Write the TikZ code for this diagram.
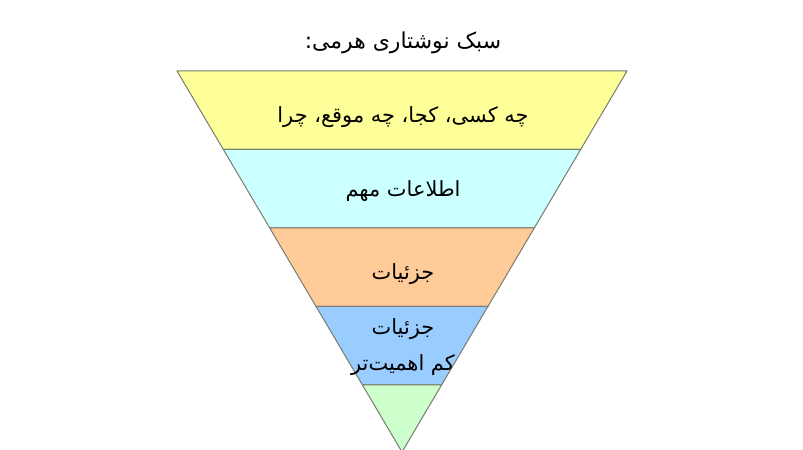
\documentclass[tikz,border=0pt]{standalone}
\usepackage{fontspec}
\usepackage{xcolor}
\usetikzlibrary{calc,positioning}
\TeXXeTstate=1
\newfontfamily\persianfont[Script=Arabic]{DejaVu Sans}
\definecolor{bandcolor1}{RGB}{255, 255, 153}
\definecolor{bandcolor2}{RGB}{204, 255, 255}
\definecolor{bandcolor3}{RGB}{255, 204, 153}
\definecolor{bandcolor4}{RGB}{153, 204, 255}
\definecolor{bandcolor5}{RGB}{204, 255, 204}
\definecolor{edgecolor1}{RGB}{120, 124, 110}
\definecolor{background}{RGB}{255, 255, 255}
\tikzset{
  bandtext/.style={font=\persianfont\fontsize{21}{36}\selectfont, align=center, inner sep=1pt},
  titletext/.style={font=\persianfont\fontsize{22}{26}\selectfont, inner sep=1pt}
}

\begin{document}
\begin{tikzpicture}[x=1bp, y=1bp]
  % Set background color
  \fill[background] (0,0) rectangle (803,450);
  \useasboundingbox (0,0) rectangle (803,450);

  % Corners of the inverted pyramid
  \coordinate (TL) at (177,379);
  \coordinate (TR) at (627,379);
  \coordinate (A) at (402,-2);

  % Bands from top to apex
  \foreach \i/\col in {1/bandcolor1,2/bandcolor2,3/bandcolor3,4/bandcolor4,5/bandcolor5} {
    \pgfmathsetmacro{\ta}{(\i-1)*0.206}
    \pgfmathsetmacro{\tb}{min(\i*0.206,1)}
    \filldraw[fill=\col, draw=edgecolor1, line width=1bp, line join=round]
      ($(TL)!\ta!(A)$) -- ($(TR)!\ta!(A)$) -- ($(TR)!\tb!(A)$) -- ($(TL)!\tb!(A)$) -- cycle;
  }

  % Title
  \node[titletext] (title) at (403,407) {\beginR سبک نوشتاری هرمی:\endR};

  % Band labels
  \node[bandtext] (who) at (403,333) {\beginR چه کسی، کجا، چه موقع، چرا\endR};
  \node[bandtext] (info) at (403,259) {\beginR اطلاعات مهم\endR};
  \node[bandtext] (detail) at (403,176) {\beginR جزئیات\endR};
  \node[bandtext] (minor) at (403,103) {\beginR جزئیات\endR\\\beginR کم اهمیت‌تر\endR};

\end{tikzpicture}
\end{document}
